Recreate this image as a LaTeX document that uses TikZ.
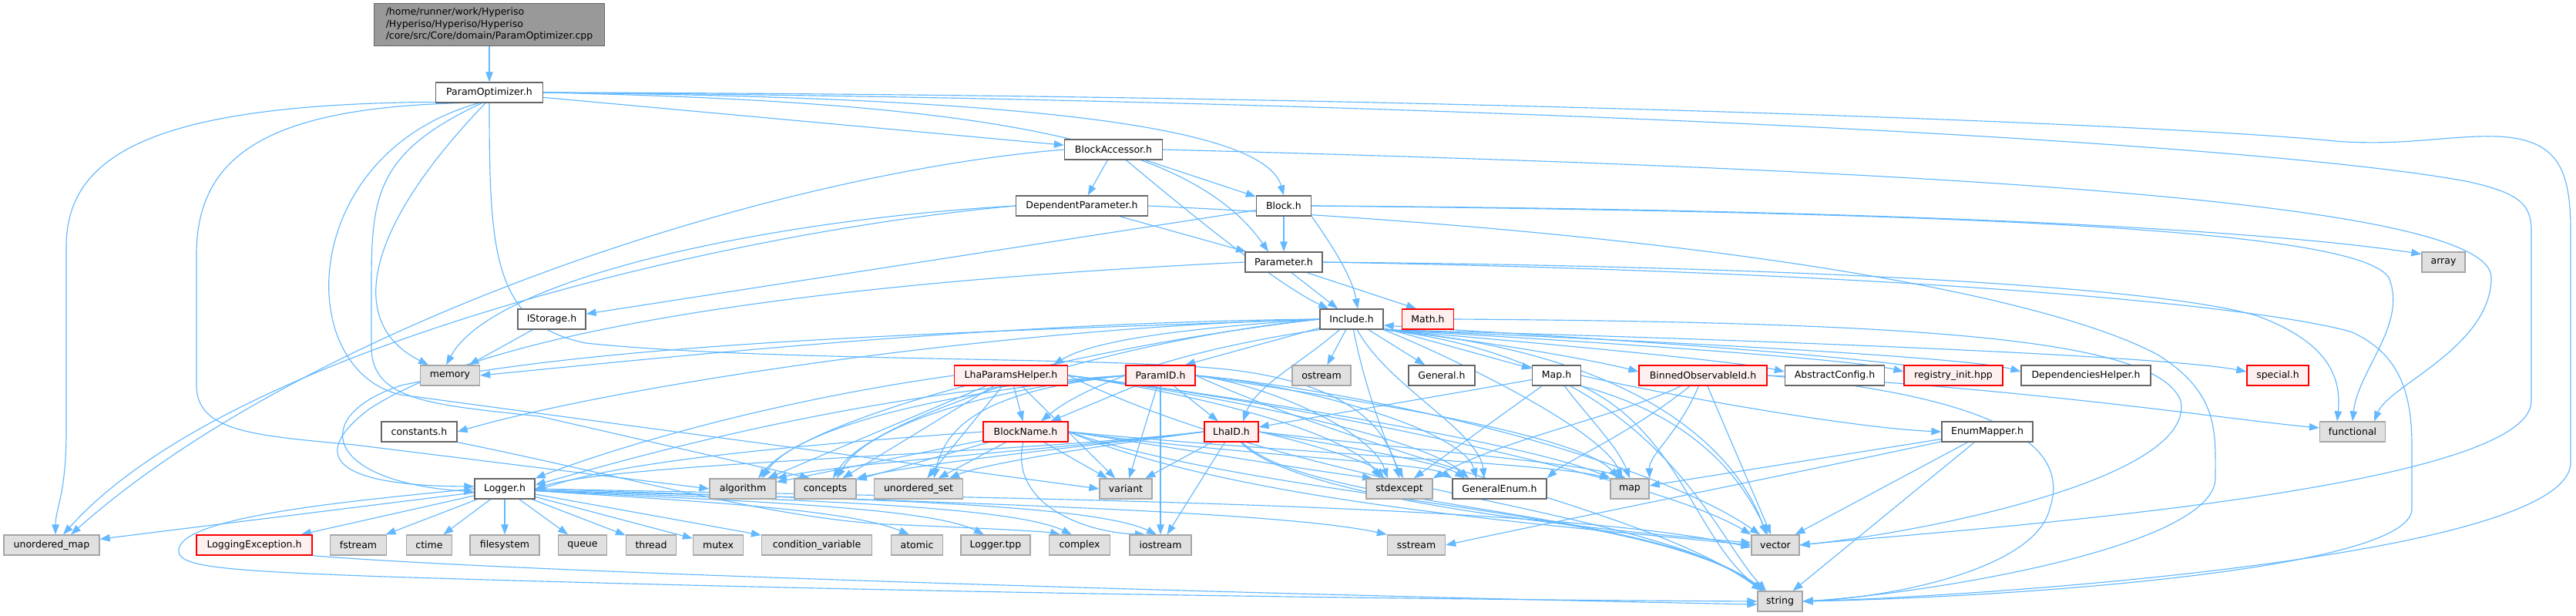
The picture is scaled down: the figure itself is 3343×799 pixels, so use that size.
\documentclass[tikz,border=0pt]{standalone}
\usepackage{fontspec}
\setmainfont{DejaVu Sans}
\usetikzlibrary{arrows.meta}
\definecolor{eb}{HTML}{63B8FF}
\definecolor{gfill}{HTML}{E0E0E0}
\definecolor{gdraw}{HTML}{A6A6A6}
\definecolor{wdraw}{HTML}{666666}
\definecolor{rfill}{HTML}{FFF0F0}
\definecolor{cppfill}{HTML}{999999}
\pgfdeclarelayer{bg}
\pgfsetlayers{bg,main}
\tikzset{
  nb/.style={draw=wdraw, fill=white, line width=1.3pt, minimum height=26pt, inner sep=0pt, font=\fontsize{12.5}{15.5}\selectfont},
  sysb/.style={nb, draw=gdraw, fill=gfill},
  redb/.style={nb, draw=red, fill=rfill},
  dep/.style={draw=eb, line width=1.15pt, -{Triangle[length=13pt,width=9.5pt]}},
}
\begin{document}
\begin{tikzpicture}[x=1pt,y=1pt]
\useasboundingbox (0,0) rectangle (3343,-799);
% nodes
\node[nb, fill=cppfill, minimum width=299pt, minimum height=55pt, align=left] (cpp) at (635,-32) {/home/runner/work/Hyperiso\\/Hyperiso/Hyperiso/Hyperiso\\/core/src/Core/domain/ParamOptimizer.cpp};
\node[nb, minimum width=139pt] (po) at (635,-120) {ParamOptimizer.h};
\node[nb, minimum width=127pt] (ba) at (1445,-194) {BlockAccessor.h};
\node[nb, minimum width=171pt] (dp) at (1404,-267) {DependentParameter.h};
\node[nb, minimum width=71pt] (blk) at (1666,-267) {Block.h};
\node[nb, minimum width=100pt] (par) at (1666,-340) {Parameter.h};
\node[sysb, minimum width=56pt] (arr) at (3171,-340) {array};
\node[nb, minimum width=88pt] (ist) at (716,-414) {IStorage.h};
\node[nb, minimum width=82pt] (inc) at (1754,-414) {Include.h};
\node[redb, minimum width=67pt] (math) at (1853,-414) {Math.h};
\node[sysb, minimum width=77pt] (mem) at (584,-487) {memory};
\node[redb, minimum width=147pt] (lph) at (1312,-487) {LhaParamsHelper.h};
\node[redb, minimum width=90pt] (pid) at (1506,-487) {ParamID.h};
\node[sysb, minimum width=76pt] (ost) at (1715,-487) {ostream};
\node[nb, minimum width=86pt] (gen) at (1871,-487) {General.h};
\node[nb, minimum width=63pt] (mapH) at (2020,-487) {Map.h};
\node[redb, minimum width=166pt] (boi) at (2210,-487) {BinnedObservableId.h};
\node[nb, minimum width=129pt] (ac) at (2381,-487) {AbstractConfig.h};
\node[redb, minimum width=128pt] (reg) at (2535,-487) {registry\_init.hpp};
\node[nb, minimum width=168pt] (dh) at (2707,-487) {DependenciesHelper.h};
\node[redb, minimum width=80pt] (spec) at (2956,-487) {special.h};
\node[nb, minimum width=98pt] (cst) at (544,-560) {constants.h};
\node[redb, minimum width=110pt] (bn) at (1331,-560) {BlockName.h};
\node[redb, minimum width=70pt] (lid) at (1598,-560) {LhaID.h};
\node[nb, minimum width=118pt] (em) at (2579,-560) {EnumMapper.h};
\node[sysb, minimum width=85pt] (func) at (3053,-560) {functional};
\node[nb, minimum width=78pt] (lgr) at (655,-634) {Logger.h};
\node[sysb, minimum width=86pt] (alg) at (964,-634) {algorithm};
\node[sysb, minimum width=80pt] (conc) at (1071,-634) {concepts};
\node[sysb, minimum width=115pt] (uset) at (1192,-634) {unordered\_set};
\node[sysb, minimum width=68pt] (var) at (1461,-634) {variant};
\node[sysb, minimum width=86pt] (stde) at (1816,-634) {stdexcept};
\node[nb, minimum width=122pt] (ge) at (1946,-634) {GeneralEnum.h};
\node[sysb, minimum width=50pt] (mapS) at (2115,-634) {map};
\node[sysb, minimum width=124pt] (umap) at (67,-707) {unordered\_map};
\node[redb, minimum width=150pt] (lex) at (330,-707) {LoggingException.h};
\node[sysb, minimum width=73pt] (fst) at (465,-707) {fstream};
\node[sysb, minimum width=59pt] (ctm) at (557,-707) {ctime};
\node[sysb, minimum width=90pt] (fsys) at (655,-707) {filesystem};
\node[sysb, minimum width=63pt] (que) at (756,-707) {queue};
\node[sysb, minimum width=65pt] (thr) at (845,-707) {thread};
\node[sysb, minimum width=65pt] (mtx) at (932,-707) {mutex};
\node[sysb, minimum width=143pt] (cv) at (1060,-707) {condition\_variable};
\node[sysb, minimum width=67pt] (atom) at (1190,-707) {atomic};
\node[sysb, minimum width=90pt] (ltpp) at (1292,-707) {Logger.tpp};
\node[sysb, minimum width=79pt] (cplx) at (1401,-707) {complex};
\node[sysb, minimum width=80pt] (iost) at (1506,-707) {iostream};
\node[sysb, minimum width=75pt] (sst) at (1838,-707) {sstream};
\node[sysb, minimum width=62pt] (vec) at (2304,-707) {vector};
\node[sysb, minimum width=58pt] (str) at (2310,-780) {string};

\begin{pgfonlayer}{bg}
% straight edges
\foreach \a/\b in {cpp/po, po/ba, ba/dp, ba/blk, dp/par, blk/par, blk/ist, ist/mem,
  inc/ost, inc/gen, inc/mapH, mapH/lid, mapH/stde,
  pid/bn, pid/lid, pid/var, lph/bn, lph/var, lph/uset, lph/conc, lph/alg,
  bn/var, bn/uset, bn/conc, bn/alg, lid/var, lid/iost,
  em/mapS, em/vec, em/str, boi/vec,
  lgr/umap, lgr/lex, lgr/fst, lgr/ctm, lgr/fsys, lgr/que, lgr/thr, lgr/mtx, lgr/cv}
  \draw[dep] (\a) -- (\b);
\draw[dep] (pid.south) -- (iost.north);
\draw[dep] (inc) -- ([xshift=32pt]pid.north);
\draw[dep] ([xshift=10pt]par.south) -- ([xshift=-18pt]inc.north);
\draw[dep] ([xshift=30pt]par.south) -- ([xshift=-15pt]math.north);

% ParamOptimizer.h
\draw[dep] (po.east) .. controls (1300,-126) and (1640,-160) .. (blk.north);
\draw[dep] (po.east) .. controls (1250,-132) and (1540,-175) .. ([xshift=-20pt]par.north);
\draw[dep] (po.190) .. controls (200,-135) and (86,-200) .. (86,-320) -- (86,-560) .. controls (86,-640) and (72,-660) .. ([xshift=5pt]umap.north);
\draw[dep] (po.200) .. controls (350,-140) and (255,-200) .. (255,-330) -- (255,-500) .. controls (255,-560) and (330,-565) .. (460,-577) -- (alg.west);
\draw[dep] (po.250) .. controls (470,-300) and (450,-420) .. ([xshift=-28pt]mem.north);
\draw[dep] (po.225) .. controls (385,-200) and (380,-480) .. (520,-512) -- (var.west);
\draw[dep] (po.235) .. controls (482,-200) and (482,-260) .. (482,-380) -- (482,-450) .. controls (482,-520) and (560,-525) .. (700,-540) -- ([xshift=-20pt]conc.north);
\draw[dep] (po.south) .. controls (635,-330) and (640,-420) .. (760,-445) .. controls (1000,-470) and (1450,-462) .. (1600,-480) .. controls (1760,-500) and (1800,-560) .. (stde.north);
\draw[dep] (po.east) .. controls (1800,-128) and (2900,-180) .. (3200,-235) .. controls (3270,-250) and (3285,-265) .. (3285,-300) -- (3285,-520) .. controls (3285,-640) and (2500,-690) .. (vec.east);
\draw[dep] (po.east) .. controls (1800,-122) and (2800,-160) .. (3030,-183) .. controls (3120,-190) and (3180,-175) .. (3240,-177) .. controls (3320,-180) and (3336,-220) .. (3336,-300) -- (3336,-600) .. controls (3336,-720) and (2600,-772) .. (str.east);

% BlockAccessor.h
\draw[dep] (ba) .. controls (1560,-290) and (1660,-370) .. ([xshift=-30pt]inc.north);
\draw[dep] (ba.west) .. controls (1000,-225) and (400,-420) .. ([xshift=25pt]umap.north);
\draw[dep] (ba.east) .. controls (2500,-220) and (3233,-260) .. (3233,-360) .. controls (3233,-450) and (3100,-500) .. ([xshift=28pt]func.north);

% DependentParameter.h
\draw[dep] (dp.west) .. controls (1000,-285) and (640,-360) .. ([xshift=-5pt]mem.north);
\draw[dep] (dp.west) .. controls (950,-300) and (300,-450) .. ([xshift=15pt]umap.north);
\draw[dep] (dp.east) .. controls (2200,-300) and (2650,-380) .. (2800,-460) .. controls (2880,-510) and (2875,-560) .. (2875,-620) .. controls (2875,-710) and (2500,-770) .. (str.east);

% Block.h
\draw[dep] (blk.south east) .. controls (1730,-320) and (1755,-360) .. ([xshift=8pt]inc.north);
\draw[dep] (blk.east) .. controls (2500,-272) and (2950,-300) .. (arr.160);
\draw[dep] (blk.east) .. controls (2600,-276) and (3060,-300) .. (3100,-360) .. controls (3125,-420) and (3060,-480) .. (func.north);

% Parameter.h
\draw[dep] (par.east) .. controls (2300,-345) and (2800,-370) .. (2930,-410) .. controls (3010,-440) and (3040,-480) .. ([xshift=-20pt]func.north);
\draw[dep] (par.east) .. controls (2400,-352) and (2900,-390) .. (3050,-430) .. controls (3120,-460) and (3130,-520) .. (3130,-580) -- (3130,-660) .. controls (3130,-740) and (2600,-775) .. (str.east);
\draw[dep] (par.west) .. controls (1100,-365) and (650,-420) .. (480,-530) .. controls (400,-590) and (430,-630) .. ([yshift=3pt]lgr.west);

% Include.h
\draw[dep] (inc.west) .. controls (1550,-425) and (1420,-440) .. ([xshift=55pt]lph.north);
\draw[dep] (inc.south east) .. controls (1950,-445) and (2080,-470) .. ([yshift=5pt]boi.west);
\draw[dep] (inc.south east) .. controls (2000,-445) and (2250,-468) .. ([yshift=5pt]ac.west);
\draw[dep] (inc.south east) .. controls (2050,-442) and (2400,-465) .. ([yshift=5pt]reg.west);
\draw[dep] (inc.south east) .. controls (2100,-440) and (2550,-462) .. ([yshift=5pt]dh.west);
\draw[dep] (inc.south east) .. controls (2200,-438) and (2800,-460) .. ([yshift=5pt]spec.west);
\draw[dep] (reg.north west) .. controls (2300,-452) and (1950,-432) .. ([yshift=-8pt]inc.east);
\draw[dep] (inc) .. controls (1690,-470) and (1630,-500) .. ([xshift=15pt]lid.north);
\draw[dep] (inc.south west) .. controls (1560,-450) and (1420,-490) .. ([xshift=20pt]bn.north);
\draw[dep] (inc.west) .. controls (1300,-425) and (800,-500) .. (cst.east);
\draw[dep] (inc.west) .. controls (1300,-418) and (900,-460) .. (mem.east);
\draw[dep] (inc.west) .. controls (1300,-430) and (800,-440) .. (520,-500) .. controls (400,-540) and (420,-625) .. ([yshift=-4pt]lgr.west);
\draw[dep] (inc.west) .. controls (1450,-440) and (1130,-540) .. ([xshift=10pt]conc.north);
\draw[dep] (inc.west) .. controls (1400,-450) and (1050,-540) .. ([xshift=20pt]alg.north);
\draw[dep] (inc) .. controls (1770,-500) and (1800,-580) .. ([xshift=5pt]stde.north);
\draw[dep] (inc) .. controls (1800,-500) and (1920,-560) .. ([xshift=-20pt]ge.north);
\draw[dep] (inc.south east) .. controls (1900,-470) and (2080,-560) .. ([xshift=-10pt]mapS.north);
\draw[dep] (inc.south east) .. controls (2150,-460) and (2260,-600) .. ([xshift=-12pt]vec.north);
\draw[dep] (inc.south east) .. controls (2150,-470) and (2220,-690) .. ([xshift=-18pt]str.north);

% Math.h
\draw[dep] (math.east) .. controls (2500,-418) and (2800,-440) .. (2830,-520) .. controls (2850,-620) and (2500,-690) .. (vec.east);

% LhaParamsHelper.h
\draw[dep] (lph.west) .. controls (1000,-520) and (800,-580) .. (lgr.north east);
\draw[dep] (lph.east) .. controls (1550,-510) and (1750,-560) .. ([xshift=-25pt]stde.north);
\draw[dep] (lph.east) .. controls (1600,-515) and (1850,-570) .. ([xshift=-40pt]ge.north);
\draw[dep] (lph.east) .. controls (1650,-520) and (2000,-580) .. (mapS.north west);
\draw[dep] (lph.east) .. controls (1700,-525) and (2150,-620) .. (vec.north west);
\draw[dep] (lph.east) .. controls (1700,-640) and (2150,-660) .. ([xshift=-22pt]str.north);

% ParamID.h
\draw[dep] (pid.west) .. controls (1300,-505) and (1230,-540) .. ([xshift=20pt]uset.north);
\draw[dep] (pid.west) .. controls (1250,-508) and (1120,-560) .. ([xshift=15pt]conc.north);
\draw[dep] (pid.west) .. controls (1200,-510) and (1030,-560) .. ([xshift=25pt]alg.north);
\draw[dep] (pid.west) .. controls (1100,-510) and (800,-600) .. ([yshift=5pt]lgr.east);
\draw[dep] (pid.east) .. controls (1650,-500) and (1780,-560) .. ([xshift=-15pt]stde.north);
\draw[dep] (pid.east) .. controls (1700,-500) and (1900,-560) .. ([xshift=-30pt]ge.north);
\draw[dep] (pid.east) .. controls (1700,-510) and (2050,-560) .. ([xshift=-15pt]mapS.north);
\draw[dep] (pid.east) .. controls (1800,-510) and (2150,-600) .. ([xshift=-20pt]vec.north);
\draw[dep] (pid.east) .. controls (1800,-600) and (2150,-665) .. ([xshift=-24pt]str.north);

% BlockName.h
\draw[dep] (bn) .. controls (1310,-650) and (1400,-690) .. ([xshift=-20pt]iost.north);
\draw[dep] (bn.west) .. controls (1000,-580) and (800,-600) .. ([yshift=-3pt]lgr.east);
\draw[dep] (bn.east) .. controls (1550,-585) and (1700,-610) .. ([xshift=-35pt]stde.north);
\draw[dep] (bn.east) .. controls (1600,-590) and (1850,-600) .. (ge.north west);
\draw[dep] (bn.east) .. controls (1700,-590) and (2000,-600) .. (mapS.north west);
\draw[dep] (bn.east) .. controls (1600,-650) and (2000,-680) .. (vec.west);
\draw[dep] (bn.east) .. controls (1650,-650) and (2150,-660) .. ([xshift=-22pt]str.north);

% LhaID.h
\draw[dep] (lid.west) .. controls (1450,-575) and (1280,-600) .. ([xshift=40pt]uset.north);
\draw[dep] (lid.west) .. controls (1400,-580) and (1200,-600) .. (conc.north east);
\draw[dep] (lid.west) .. controls (1350,-585) and (1100,-600) .. (alg.north east);
\draw[dep] (lid.west) .. controls (1300,-590) and (800,-600) .. (lgr.east);
\draw[dep] (lid.east) .. controls (1700,-575) and (1780,-600) .. ([xshift=-20pt]stde.north);
\draw[dep] (lid.east) .. controls (1750,-580) and (1870,-600) .. ([xshift=-45pt]ge.north);
\draw[dep] (lid.east) .. controls (1800,-580) and (2050,-600) .. ([xshift=-5pt]mapS.north);
\draw[dep] (lid) .. controls (1680,-650) and (2100,-690) .. ([yshift=3pt]vec.west);
\draw[dep] (lid) .. controls (1700,-660) and (2150,-660) .. ([xshift=-20pt]str.north);

% Map.h
\draw[dep] (mapH.east) .. controls (2150,-510) and (2400,-555) .. (em.west);
\draw[dep] (mapH) .. controls (2060,-540) and (2100,-580) .. (mapS.north);
\draw[dep] (mapH.south east) .. controls (2200,-540) and (2260,-620) .. ([xshift=-10pt]vec.north);
\draw[dep] (mapH.south east) .. controls (2180,-560) and (2200,-700) .. ([xshift=-22pt]str.north);

% BinnedObservableId.h
\draw[dep] (boi.east) .. controls (2600,-500) and (2900,-545) .. ([yshift=5pt]func.west);
\draw[dep] (boi) .. controls (2180,-560) and (2140,-590) .. (mapS.north east);
\draw[dep] (boi) .. controls (2100,-540) and (1950,-570) .. (stde.north east);
\draw[dep] (boi) .. controls (2120,-560) and (2030,-600) .. (ge.north east);
\draw[dep] (boi.east) .. controls (2650,-520) and (2680,-600) .. (2660,-660) .. controls (2640,-740) and (2450,-775) .. (str.east);

% EnumMapper.h
\draw[dep] (em) .. controls (2300,-620) and (2000,-680) .. (sst.east);

% constants.h
\draw[dep] (cst.south east) .. controls (800,-615) and (1000,-672) .. (1150,-680) .. controls (1280,-685) and (1360,-690) .. ([xshift=-25pt]cplx.north);

% Logger.h
\draw[dep] (lgr) .. controls (900,-650) and (1100,-660) .. ([xshift=-10pt]atom.north);
\draw[dep] (lgr) .. controls (900,-648) and (1200,-655) .. ([xshift=-15pt]ltpp.north);
\draw[dep] (lgr) .. controls (900,-646) and (1300,-650) .. ([xshift=-10pt]cplx.north);
\draw[dep] (lgr) .. controls (900,-644) and (1400,-645) .. ([xshift=-5pt]iost.north);
\draw[dep] (lgr.east) .. controls (1100,-648) and (1650,-660) .. (sst.north west);
\draw[dep] (lgr.east) .. controls (1200,-645) and (2000,-650) .. ([yshift=-3pt]vec.west);
\draw[dep] (lgr.west) .. controls (450,-650) and (240,-670) .. (232,-712) .. controls (228,-735) and (280,-740) .. (500,-748) .. controls (1200,-770) and (1900,-778) .. (str.west);
\draw[dep] (lex.south east) .. controls (700,-745) and (1800,-775) .. ([yshift=-4pt]str.west);
\end{pgfonlayer}
\end{tikzpicture}
\end{document}
